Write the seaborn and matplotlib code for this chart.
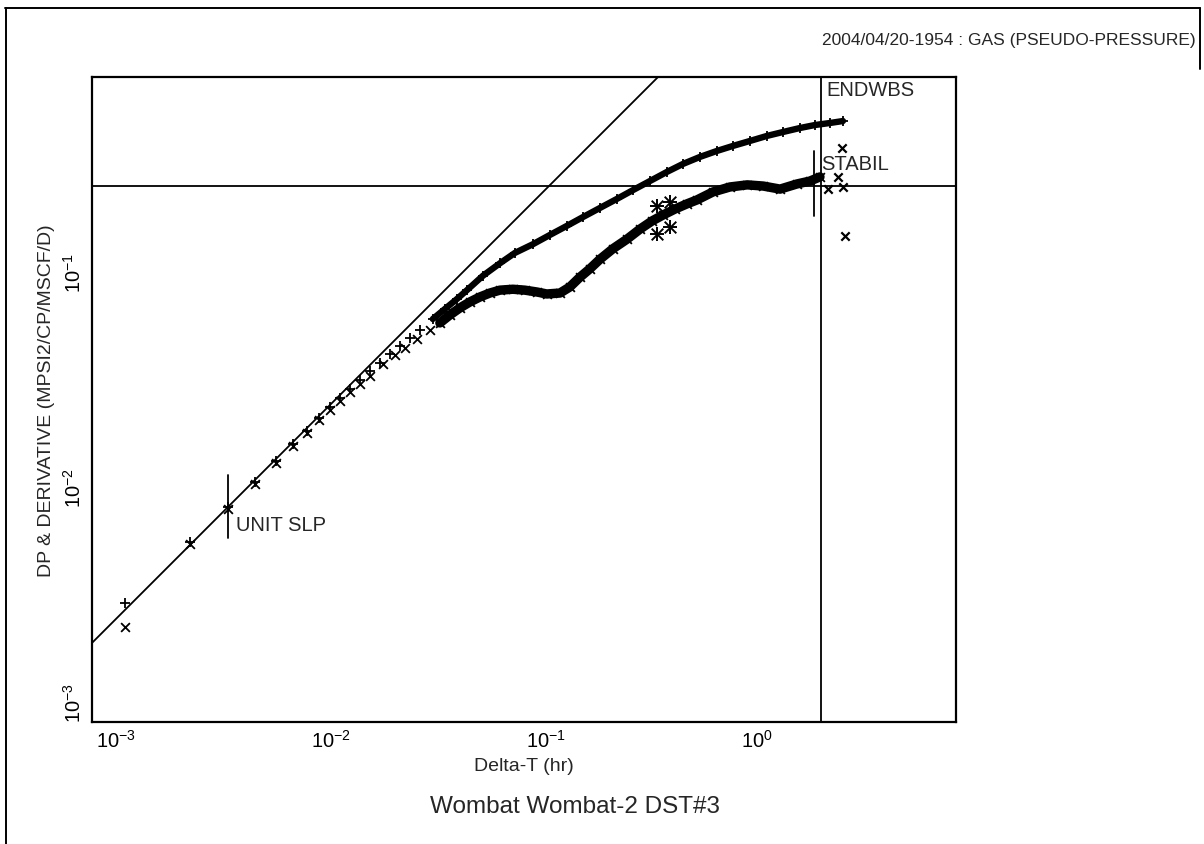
import numpy as np
import pandas as pd
import matplotlib
matplotlib.use("Agg")
import matplotlib.pyplot as plt
import seaborn as sns
from matplotlib.ticker import LogLocator, FixedLocator, NullFormatter, FixedFormatter
from matplotlib.lines import Line2D

# ---------------- data ----------------
dp_t = [0.00137, 0.00274, 0.00411, 0.00548, 0.00685, 0.00822, 0.00959, 0.01096, 0.01233, 0.0137,
        0.0152, 0.0169, 0.0188, 0.0210, 0.0233, 0.0259, 0.0289, 0.0321, 0.0369, 0.0420,
        0.0478, 0.0532, 0.0631, 0.0757, 0.0889, 0.108, 0.129, 0.155, 0.184, 0.221,
        0.265, 0.315, 0.377, 0.453, 0.537, 0.645, 0.773, 0.918, 1.10, 1.32,
        1.57, 1.88, 2.21, 2.59, 2.98]
dp_v = [0.00358, 0.00688, 0.0100, 0.0131, 0.0164, 0.0196, 0.0226, 0.0259, 0.0292, 0.0321,
        0.0354, 0.0390, 0.0429, 0.0468, 0.0515, 0.0561, 0.0611, 0.0666, 0.0749, 0.0834,
        0.0928, 0.102, 0.119, 0.136, 0.152, 0.167, 0.184, 0.203, 0.223, 0.246,
        0.271, 0.298, 0.328, 0.362, 0.394, 0.425, 0.453, 0.478, 0.504, 0.532,
        0.555, 0.579, 0.598, 0.611, 0.624]

dv_t = [0.00137, 0.00274, 0.00411, 0.00548, 0.00685, 0.00822, 0.00959, 0.01096, 0.01233, 0.0137,
        0.0152, 0.0169, 0.0188, 0.0216, 0.0246, 0.0274, 0.0311, 0.0358, 0.0398, 0.0443,
        0.0493, 0.0549, 0.0611, 0.0680, 0.0757, 0.0870, 0.0989, 0.1125, 0.125, 0.144,
        0.160, 0.178, 0.198, 0.221, 0.254, 0.295, 0.339, 0.386, 0.434, 0.493,
        0.561, 0.624, 0.741, 0.889, 1.07, 1.27, 1.52, 1.82, 2.09, 2.33]
dv_v = [0.00277, 0.00673, 0.00979, 0.0128, 0.0160, 0.0192, 0.0221, 0.0254, 0.0283, 0.0311,
        0.0343, 0.0373, 0.0407, 0.0463, 0.0509, 0.0549, 0.0604, 0.0666, 0.0718, 0.0782,
        0.0843, 0.0899, 0.0948, 0.0989, 0.102, 0.103, 0.102, 0.100, 0.0979, 0.0989,
        0.1055, 0.117, 0.128, 0.142, 0.159, 0.176, 0.196, 0.214, 0.228, 0.243,
        0.257, 0.268, 0.292, 0.308, 0.315, 0.311, 0.301, 0.318, 0.328, 0.343]

# scattered derivative points after end of storage / noisy spikes
dv_tail_t = [2.54, 2.83, 2.98, 2.95, 3.05]
dv_tail_v = [0.301, 0.343, 0.308, 0.468, 0.182]
spike_t = [0.407, 0.468, 0.407, 0.468]
spike_v = [0.251, 0.262, 0.186, 0.201]

# straight-line references
unit_slope_coef = 2.43          # DP = coef * dt  (unit slope line)
stabil_level = 0.31             # horizontal stabilisation line
endwbs_t = 2.36                 # end of wellbore storage
flag_names = ["UNIT SLP", "STABIL"]
flag_t = [0.00411, 2.19]
flag_lo = [0.00718, 0.225]
flag_hi = [0.0141, 0.453]

x_tick_vals = [1e-3, 1e-2, 1e-1, 1e0]
x_tick_labels = [r"$10^{-3}$", r"$10^{-2}$", r"$10^{-1}$", r"$10^{0}$"]
y_tick_vals = [1e-3, 1e-2, 1e-1]
y_tick_labels = [r"$10^{-3}$", r"$10^{-2}$", r"$10^{-1}$"]

header = "2004/04/20-1954 : GAS (PSEUDO-PRESSURE)"
title = "Wombat Wombat-2 DST#3"
xlabel = "Delta-T (hr)"
ylabel = "DP & DERIVATIVE (MPSI2/CP/MSCF/D)"

# ---------------- styling ----------------
sns.set_theme(style="white")
plt.rcParams["font.family"] = ["Liberation Sans", "DejaVu Sans"]
plt.rcParams["mathtext.default"] = "regular"

W, H = 1204, 845
fig = plt.figure(figsize=(W / 100, H / 100), dpi=100)
fig.patch.set_facecolor("white")
L, R, T, B = 92, 956, 78, 723
ax = fig.add_axes([L / W, 1 - B / H, (R - L) / W, (B - T) / H])
ax.set_facecolor("white")
ax.set_xscale("log")
ax.set_yscale("log")

dp_df = pd.DataFrame({"t": dp_t, "v": dp_v})
dv_df = pd.DataFrame({"t": dv_t, "v": dv_v})
tail_df = pd.DataFrame({"t": dv_tail_t, "v": dv_tail_v})
spike_df = pd.DataFrame({"t": spike_t, "v": spike_v})

band_dp = 18
band_dv = 18
sns.lineplot(data=dp_df.iloc[band_dp:], x="t", y="v", sort=False, estimator=None,
             color="black", lw=4.6, ax=ax)
sns.lineplot(data=dv_df.iloc[band_dv:], x="t", y="v", sort=False, estimator=None,
             color="black", lw=6.8, ax=ax)
sns.scatterplot(data=dp_df, x="t", y="v", marker="+", s=46, color="black",
                linewidth=1.3, ax=ax)
sns.scatterplot(data=dv_df, x="t", y="v", marker="x", s=40, color="black",
                linewidth=1.3, ax=ax)
sns.scatterplot(data=tail_df, x="t", y="v", marker="x", s=36, color="black",
                linewidth=1.6, ax=ax)
sns.scatterplot(data=spike_df, x="t", y="v", marker="x", s=70, color="black",
                linewidth=1.4, ax=ax)
sns.scatterplot(data=spike_df, x="t", y="v", marker="+", s=90, color="black",
                linewidth=1.4, ax=ax)

# reference lines
ax.axline((1e-3, unit_slope_coef * 1e-3), (1e-1, unit_slope_coef * 1e-1),
          color="black", lw=1.3)
ax.axhline(stabil_level, color="black", lw=1.3)
ax.axvline(endwbs_t, color="black", lw=1.3)
for name, t, lo, hi in zip(flag_names, flag_t, flag_lo, flag_hi):
    ax.plot([t, t], [lo, hi], color="black", lw=1.3)
ax.annotate("UNIT SLP", xy=(flag_t[0], 0.0083), xytext=(6, 0), textcoords="offset points",
            ha="left", va="center", fontsize=14.5)
ax.annotate("STABIL", xy=(flag_t[1], 0.394), xytext=(5, 0), textcoords="offset points",
            ha="left", va="center", fontsize=14.5)
ax.annotate("ENDWBS", xy=(endwbs_t, 1.0), xycoords=("data", "data"), xytext=(4, -9),
            textcoords="offset points", ha="left", va="center", fontsize=14.5)

ax.set_xlim(0.00096, 10)
ax.set_ylim(1e-3, 1.0)

ax.xaxis.set_major_locator(FixedLocator(x_tick_vals))
ax.xaxis.set_major_formatter(FixedFormatter(x_tick_labels))
ax.yaxis.set_major_locator(FixedLocator(y_tick_vals))
ax.yaxis.set_major_formatter(FixedFormatter(y_tick_labels))
ax.xaxis.set_minor_locator(LogLocator(base=10, subs=np.arange(2, 10)))
ax.yaxis.set_minor_locator(LogLocator(base=10, subs=np.arange(2, 10)))
ax.xaxis.set_minor_formatter(NullFormatter())
ax.yaxis.set_minor_formatter(NullFormatter())
ax.tick_params(which="both", direction="in", top=False, right=False, colors="black",
               width=1.0)
ax.tick_params(which="major", length=6.5, labelsize=14.5, pad=5)
ax.tick_params(which="minor", length=3.5)
for lab in ax.get_xticklabels():
    lab.set_ha("left")
for lab in ax.get_yticklabels():
    lab.set_rotation(90)
    lab.set_va("bottom")
    lab.set_ha("right")

for s in ax.spines.values():
    s.set_color("black")
    s.set_linewidth(1.6)
    s.set_visible(True)

ax.set_xlabel(xlabel, fontsize=14, va="center")
ax.xaxis.set_label_coords(0.5, (B - 767) / (B - T))
ax.set_ylabel(ylabel, fontsize=14, va="center")
ax.yaxis.set_label_coords((47 - L) / (R - L), 0.5)

fig.text(1196 / W, 1 - 40 / H, header, ha="right", va="center", fontsize=12.5)
fig.text(575 / W, 1 - 807 / H, title, ha="center", va="center", fontsize=17.5)

# page frame
fig.add_artist(Line2D([5 / W, 1200 / W], [1 - 9 / H, 1 - 9 / H], transform=fig.transFigure,
                      color="black", lw=1.4))
fig.add_artist(Line2D([6 / W, 6 / W], [1 - 9 / H, 0], transform=fig.transFigure,
                      color="black", lw=1.4))
fig.add_artist(Line2D([1200 / W, 1200 / W], [1 - 9 / H, 1 - 70 / H], transform=fig.transFigure,
                      color="black", lw=1.4))

fig.savefig("out.png", dpi=100, facecolor="white")
